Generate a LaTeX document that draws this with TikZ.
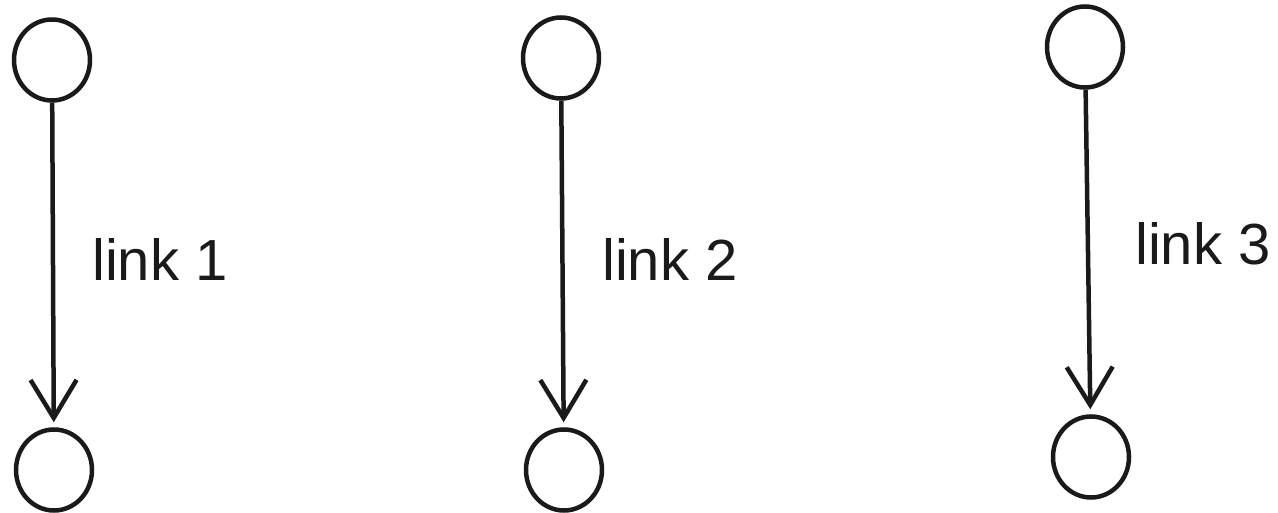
\documentclass[tikz,border=0pt]{standalone}
\usepackage{fontspec}
\setmainfont{Liberation Sans}
\usetikzlibrary{arrows.meta,shapes.geometric}
\definecolor{ink}{HTML}{1A1A1A}
\begin{document}
\begin{tikzpicture}[x=1pt,y=-1pt,
  vertex/.style={draw=ink,line width=4.5pt,ellipse,inner sep=0pt,minimum width=76pt,minimum height=81pt},
  link/.style={draw=ink,line width=4.5pt,-{Straight Barb[length=38pt,width=46pt]},shorten >=5pt},
  lbl/.style={anchor=base west,inner sep=0pt,font=\fontsize{58}{66}\selectfont,text=ink}]
\useasboundingbox (0,0) rectangle (1278,513);
\node[vertex] (a1) at (52,60) {};
\node[vertex] (b1) at (54,470) {};
\node[vertex] (a2) at (561,58) {};
\node[vertex] (b2) at (564,470) {};
\node[vertex] (a3) at (1085,47) {};
\node[vertex] (b3) at (1091,457) {};
\draw[link] (a1) -- (b1);
\draw[link] (a2) -- (b2);
\draw[link] (a3) -- (b3);
\node[lbl] (l1) at (92,280) {link 1};
\node[lbl] (l2) at (602,280) {link 2};
\node[lbl] (l3) at (1135,265) {link 3};
\end{tikzpicture}
\end{document}
